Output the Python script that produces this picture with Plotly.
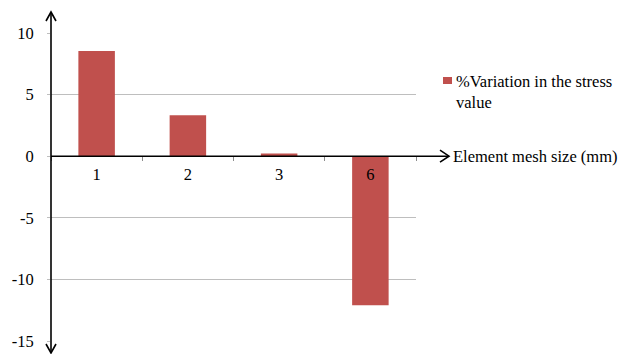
import plotly.graph_objects as go

# Data
mesh_sizes = ["1", "2", "3", "6"]
variation = [8.54, 3.33, 0.22, -12.1]
series_name = "%Variation in the stress<br>value"
x_title = "Element mesh size (mm)"
y_ticks = [-15, -10, -5, 0, 5, 10]
y_tick_text = ["-15", "-10", "-5", "0", "5", "10"]

BAR_COLOR = "#C0504D"
FONT = "'Liberation Serif', 'DejaVu Serif', serif"
W, H = 632, 354
L, R, T, B = 51, 216, 33, 13
PW, PH = W - L - R, H - T - B


def px_x(p):
    return (p - L) / PW


def px_y(p):
    return (H - B - p) / PH


fig = go.Figure(
    go.Bar(
        x=mesh_sizes,
        y=variation,
        name=series_name,
        marker=dict(color=BAR_COLOR, line=dict(width=0)),
        showlegend=False,
    )
)

y0_paper = (0 - y_ticks[0]) / (y_ticks[-1] - y_ticks[0])

shapes = []
line_style = dict(color="black", width=1.6)
# vertical axis with arrowheads at both ends
shapes.append(dict(type="line", xref="paper", yref="paper",
                   x0=0, x1=0, y0=px_y(352), y1=px_y(12), line=line_style))
shapes.append(dict(type="path", xref="paper", yref="paper",
                   path=f"M {px_x(46)},{px_y(21)} L 0,{px_y(12)} L {px_x(56)},{px_y(21)}",
                   line=line_style))
shapes.append(dict(type="path", xref="paper", yref="paper",
                   path=f"M {px_x(46)},{px_y(344)} L 0,{px_y(353)} L {px_x(56)},{px_y(344)}",
                   line=line_style))
# horizontal axis through zero, arrow on the right
y_zero_px = H - B - y0_paper * PH
shapes.append(dict(type="line", xref="paper", yref="y",
                   x0=0, x1=px_x(449), y0=0, y1=0, line=line_style))
shapes.append(dict(type="path", xref="paper", yref="paper",
                   path=(f"M {px_x(440)},{px_y(y_zero_px - 6)} L {px_x(449)},{y0_paper} "
                         f"L {px_x(440)},{px_y(y_zero_px + 6)}"),
                   line=line_style))
# legend swatch
shapes.append(dict(type="rect", xref="paper", yref="paper",
                   x0=px_x(443), x1=px_x(452), y0=px_y(84), y1=px_y(77),
                   fillcolor=BAR_COLOR, line=dict(width=0)))

annotations = [
    dict(text=x_title, xref="paper", yref="y", x=px_x(451), y=0,
         xanchor="left", yanchor="middle", showarrow=False,
         font=dict(family=FONT, size=16.5, color="black")),
    dict(text=series_name, xref="paper", yref="paper", x=px_x(454), y=px_y(70),
         xanchor="left", yanchor="top", align="left", showarrow=False,
         font=dict(family=FONT, size=16.5, color="black")),
]

fig.update_layout(
    template="none",
    width=W, height=H,
    margin=dict(l=L, r=R, t=T, b=B, pad=0),
    paper_bgcolor="white", plot_bgcolor="white",
    bargap=0.6,
    showlegend=False,
    font=dict(family=FONT, size=16.5, color="black"),
    shapes=shapes,
    annotations=annotations,
    xaxis=dict(
        type="category",
        anchor="free", position=y0_paper,
        automargin=False,
        showline=False, showgrid=False, zeroline=False,
        ticks="outside", tickson="boundaries", ticklen=4,
        tickcolor="#8C8C8C", tickwidth=1,
        ticklabelstandoff=6,
        tickfont=dict(family=FONT, size=16.5, color="black"),
        range=[-0.5, len(mesh_sizes) - 0.5],
    ),
    yaxis=dict(
        automargin=False,
        range=[y_ticks[0], y_ticks[-1]],
        tickvals=y_ticks, ticktext=y_tick_text,
        showgrid=True, gridcolor="#BEBEBE", gridwidth=1,
        zeroline=False, showline=False,
        ticks="outside", ticklen=3, tickcolor="#BEBEBE",
        ticklabelstandoff=10,
        tickfont=dict(family=FONT, size=16.5, color="black"),
    ),
)

fig.write_html("out.html")
